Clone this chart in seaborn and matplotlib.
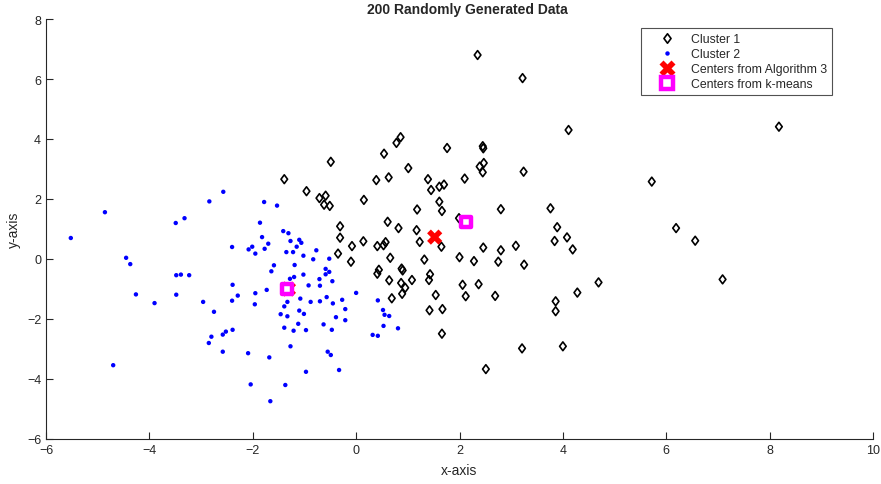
import numpy as np
import pandas as pd
import matplotlib
matplotlib.use("Agg")
import matplotlib.pyplot as plt
from matplotlib.lines import Line2D
from matplotlib.path import Path
import seaborn as sns

# Cluster 1 (open diamonds)
c1_x = [2.35, 0.86, 0.78, 0.54, 1.76, -0.49, 1.01, 2.39, -1.39, 0.39, 0.63, 1.39, 2.10,
        -0.96, 1.45, 1.61, 1.70, -0.71, -0.59, -0.62, -0.51, 0.15, 1.61, 1.18,
        -0.31, -0.31, 0.14, -0.08, 0.41, -0.35, -0.10,
        2.45, 3.24, 1.66, 2.80, 0.61, 0.82, 1.99, 1.17, 0.53, 0.57, 1.23, 1.65, 2.46,
        2.80, 3.09, 0.66, 1.32, 2.00, 2.28, 2.75, 3.25, 0.44, 0.41, 0.88, 0.90, 0.64,
        1.08, 1.43, 1.41, 0.87, 0.95, 0.89, 0.69, 2.06, 2.37, 1.54, 2.12, 2.69, 1.42,
        1.67, 1.66, 3.21,
        3.22, 4.11, 2.45, 2.46, 2.47, 5.72, 3.76, 3.89, 3.84, 4.08, 4.19, 4.69, 4.28,
        3.86, 3.86, 4.00, 2.51,
        8.18, 6.19, 6.56, 7.09]
c1_y = [6.80, 4.06, 3.87, 3.51, 3.70, 3.24, 3.03, 3.08, 2.66, 2.63, 2.72, 2.66, 2.68,
        2.26, 2.30, 2.41, 2.48, 2.03, 2.11, 1.81, 1.77, 1.97, 1.91, 1.65,
        1.09, 0.71, 0.59, 0.43, 0.43, 0.18, -0.09,
        2.89, 2.91, 1.60, 1.66, 1.24, 1.03, 1.36, 0.96, 0.46, 0.56, 0.57, 0.41, 0.38,
        0.29, 0.44, 0.04, -0.02, 0.06, -0.07, -0.09, -0.19, -0.36, -0.49, -0.32, -0.38, -0.71,
        -0.70, -0.51, -0.70, -0.80, -0.96, -1.16, -1.31, -0.86, -0.84, -1.20, -1.24, -1.23, -1.71,
        -1.67, -2.49, -2.98,
        6.03, 4.30, 3.76, 3.69, 3.20, 2.58, 1.69, 1.06, 0.60, 0.72, 0.32, -0.78, -1.12,
        -1.41, -1.74, -2.91, -3.67,
        4.41, 1.03, 0.61, -0.68]

# Cluster 2 (filled dots)
c2_x = [-5.52, -4.86, -4.45, -4.37, -4.26, -3.90, -4.70, -3.49, -3.32, -3.48, -3.39, -3.23,
        -3.48, -2.96, -2.75, -2.84, -2.57, -2.40, -2.39, -2.29, -2.40, -2.39, -2.52, -2.58,
        -2.80, -2.85, -2.58,
        -1.78, -1.53, -1.86, -1.41, -1.31, -1.82, -1.27, -1.10, -1.06, -1.70, -2.01, -2.08,
        -1.77, -1.95, -1.15, -1.35, -1.22, -0.77, -1.02, -0.83, -0.52, -1.19, -1.59, -1.64,
        -0.59, -0.52, -0.59, -1.02, -1.20, -1.28, -0.71, -0.46, -0.92, -0.70, -1.73, -1.95,
        0.00, -1.08, -0.57, -0.27, -1.33, -0.88, -0.70, -0.45, -1.39, -1.96, -0.21, -1.10,
        -1.01, -1.46, -1.33, -0.39, -0.21, -1.12, -0.63, -1.39, -1.21, -0.97, -0.47, 0.32,
        0.42, -2.09, -1.68, -1.27, -0.55, -0.49, -0.97, -0.33, -2.04, -1.37, -1.66,
        0.42, 0.52, 0.55, 0.64, 0.53, 0.81]
c2_y = [0.70, 1.56, 0.04, -0.17, -1.18, -1.47, -3.54, 1.20, 1.36, -0.54, -0.52, -0.54,
        -1.19, -1.43, -1.76, 1.92, 2.24, 0.40, -0.86, -1.22, -1.39, -2.36, -2.42, -2.52,
        -2.59, -2.80, -3.09,
        1.90, 1.78, 1.21, 0.93, 0.86, 0.73, 0.60, 0.64, 0.54, 0.51, 0.41, 0.32,
        0.34, 0.18, 0.41, 0.23, 0.23, 0.29, 0.11, -0.01, 0.01, -0.20, -0.21, -0.41,
        -0.33, -0.43, -0.51, -0.52, -0.60, -0.66, -0.67, -0.74, -0.88, -0.89, -1.03, -1.14,
        -1.13, -1.32, -1.27, -1.36, -1.43, -1.43, -1.41, -1.48, -1.58, -1.51, -1.67, -1.72,
        -1.83, -1.84, -1.91, -1.94, -2.04, -2.16, -2.18, -2.29, -2.39, -2.37, -2.36, -2.53,
        -2.56, -3.14, -3.28, -2.91, -3.09, -3.20, -3.76, -3.70, -4.18, -4.20, -4.74,
        -1.38, -1.70, -1.86, -1.90, -2.23, -2.31]

# Cluster centres from the two methods
alg3_x = [-1.31, 1.52]
alg3_y = [-1.00, 0.73]
km_x = [-1.33, 2.13]
km_y = [-1.00, 1.22]

# Diamond slightly taller than wide
diamond = Path([(0, 1), (0.75, 0), (0, -1), (-0.75, 0), (0, 1)],
               [Path.MOVETO, Path.LINETO, Path.LINETO, Path.LINETO, Path.CLOSEPOLY])

sns.set_theme(style="ticks")
plt.rcParams["font.family"] = ["Liberation Sans", "DejaVu Sans"]

fig = plt.figure(figsize=(8.81, 4.85), dpi=100)
ax = fig.add_axes([46 / 881, 45 / 485, 827 / 881, 420 / 485])

df1 = pd.DataFrame({"x": c1_x, "y": c1_y})
df2 = pd.DataFrame({"x": c2_x, "y": c2_y})
dfa = pd.DataFrame({"x": alg3_x, "y": alg3_y})
dfk = pd.DataFrame({"x": km_x, "y": km_y})

sns.scatterplot(data=df1, x="x", y="y", ax=ax, marker=diamond, s=40,
                facecolor="none", edgecolor="black", linewidth=1.2, legend=False)
sns.scatterplot(data=df2, x="x", y="y", ax=ax, marker="o", s=10,
                color="#0000ff", edgecolor="none", legend=False)
sns.scatterplot(data=dfa, x="x", y="y", ax=ax, marker="X", s=120,
                color="red", edgecolor="none", legend=False, zorder=4)
sns.scatterplot(data=dfk, x="x", y="y", ax=ax, marker="s", s=60,
                facecolor="white", edgecolor="magenta", linewidth=3.2, legend=False, zorder=5)

ax.set_xlim(-6, 10)
ax.set_ylim(-6, 8)
ax.set_xticks(np.arange(-6, 11, 2))
ax.set_yticks(np.arange(-6, 9, 2))
ax.tick_params(direction="in", length=5, width=0.8, colors="#262626", labelsize=9,
               labelcolor="#262626")
for side in ("top", "right"):
    ax.spines[side].set_visible(False)
for side in ("left", "bottom"):
    ax.spines[side].set_color("#262626")
    ax.spines[side].set_linewidth(0.8)

ax.set_xlabel("x-axis", fontsize=10, color="#262626", labelpad=5)
ax.set_ylabel("y-axis", fontsize=10, color="#262626", labelpad=4)
ax.set_title("200 Randomly Generated Data", fontsize=10, fontweight="bold", pad=4, x=0.509)

handles = [
    Line2D([], [], linestyle="none", marker=diamond, markersize=6.8, markerfacecolor="none",
           markeredgecolor="black", markeredgewidth=1.2),
    Line2D([], [], linestyle="none", marker="o", markersize=3.2, markerfacecolor="#0000ff",
           markeredgecolor="none"),
    Line2D([], [], linestyle="none", marker="X", markersize=11, markerfacecolor="red",
           markeredgecolor="none"),
    Line2D([], [], linestyle="none", marker="s", markersize=8, markerfacecolor="white",
           markeredgecolor="magenta", markeredgewidth=3.2),
]
labels = ["Cluster 1", "Cluster 2", "Centers from Algorithm 3", "Centers from k-means"]
leg = ax.legend(handles, labels, loc="upper right", bbox_to_anchor=(832 / 881, 456 / 485),
                bbox_transform=fig.transFigure, fontsize=8.8, frameon=True, fancybox=False,
                edgecolor="#262626", handletextpad=0.25, borderpad=0.4, labelspacing=0.25,
                handlelength=3.4, borderaxespad=0)
leg.get_frame().set_linewidth(0.8)

fig.savefig("out.png", dpi=100)
